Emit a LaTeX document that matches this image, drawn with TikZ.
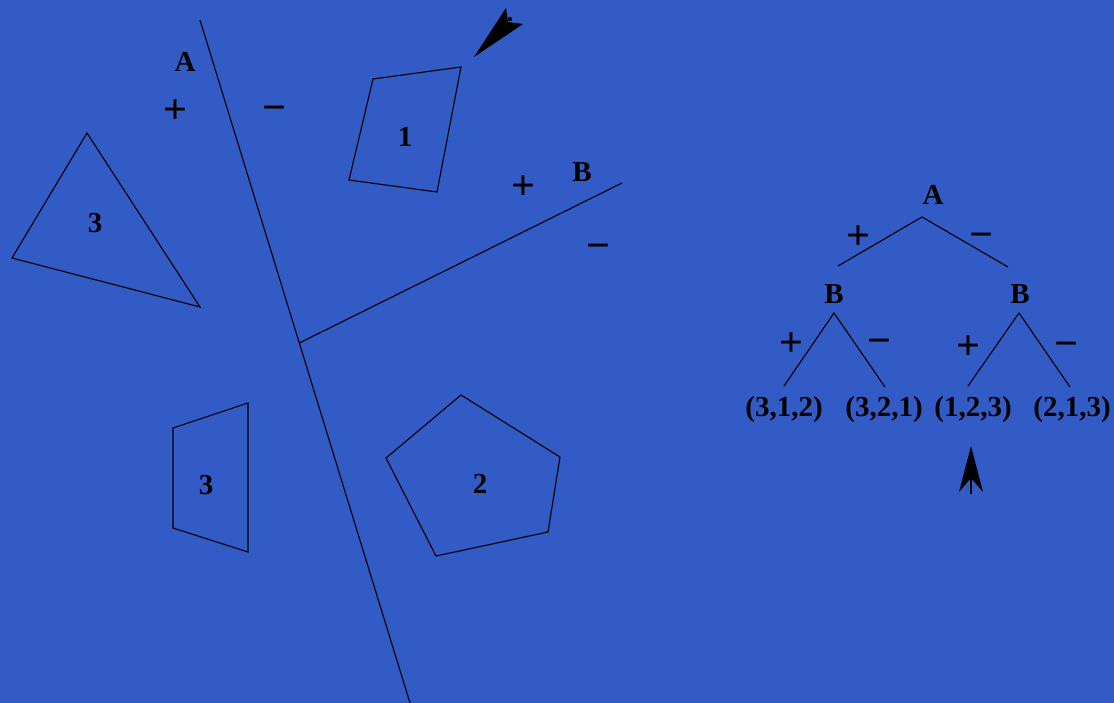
\documentclass[tikz,border=0pt]{standalone}
\usepackage{fontspec}
\setmainfont{Liberation Serif}
\begin{document}
\begin{tikzpicture}[x=1pt,y=-1pt,
  lbl/.style={font=\fontsize{29}{30}\selectfont\bfseries,inner sep=0pt},
  sgn/.style={font=\fontsize{42}{42}\selectfont\bfseries,inner sep=0pt},
  thin/.style={line width=1.1pt,black},
  pt/.style={inner sep=0pt,minimum size=0pt}]
\definecolor{bg}{RGB}{51,91,197}
\fill[bg] (0,0) rectangle (1114,703);
\useasboundingbox (0,0) rectangle (1114,703);
% cutting lines
\coordinate (a1) at (200,20);
\coordinate (a2) at (410,703);
\coordinate (b0) at (299.3,343);
\coordinate (b1) at (622,183);
\draw[thin] (a1) -- (a2);
\draw[thin] (b0) -- (b1);
% polygons
\draw[thin] (373,79) -- (461,67) -- (437,192) -- (349,180) -- cycle;
\draw[thin] (87,133) -- (200,307) -- (12,258) -- cycle;
\draw[thin] (173,428) -- (248,403) -- (248,552) -- (173,528) -- cycle;
\draw[thin] (461,395) -- (560,457) -- (548,532) -- (436,556) -- (386,458) -- cycle;
% polygon labels
\node[lbl] (p1) at (405,137) {1};
\node[lbl] (p3a) at (95,223) {3};
\node[lbl] (p3b) at (206,485) {3};
\node[lbl] (p2) at (480,484) {2};
% line labels
\node[lbl] (la) at (185,62) {A};
\node[sgn] (lap) at (175,112) {+};
\node[sgn] (lam) at (274,114) {−};
\node[lbl] (lb) at (582,172) {B};
\node[sgn] (lbp) at (523,188) {+};
\node[sgn] (lbm) at (598,252) {−};
% top arrow
\fill[black] (474,57) -- (506,8) -- (508,22) -- (523,24) -- cycle;
\fill[black] (510,19) circle (2.2);
% tree
\node[lbl] (tA) at (933,195) {A};
\node[lbl] (tBl) at (834,294) {B};
\node[lbl] (tBr) at (1020,294) {B};
\node[lbl] (l1) at (784,410) {(3,1,2)};
\node[lbl] (l2) at (884,410) {(3,2,1)};
\node[lbl] (l3) at (973,410) {(1,2,3)};
\node[lbl] (l4) at (1072,410) {(2,1,3)};
\coordinate (tAs) at (922,217);
\coordinate (tBls) at (834,313);
\coordinate (tBrs) at (1019,313);
\coordinate (e1) at (838,266);
\coordinate (e2) at (1008,267);
\coordinate (f1) at (784,386);
\coordinate (f2) at (885,387);
\coordinate (f3) at (968,386);
\coordinate (f4) at (1070,387);
\draw[thin] (e1) -- (tAs) -- (e2);
\draw[thin] (f1) -- (tBls) -- (f2);
\draw[thin] (f3) -- (tBrs) -- (f4);
\node[sgn] (s1) at (858,238) {+};
\node[sgn] (s2) at (981,241) {−};
\node[sgn] (s3) at (791,345) {+};
\node[sgn] (s4) at (879,347) {−};
\node[sgn] (s5) at (968,348) {+};
\node[sgn] (s6) at (1066,350) {−};
% bottom arrow
\fill[black] (971,446) -- (983,492) -- (971,478) -- (959,492) -- cycle;
\draw[line width=2pt] (971,478) -- (971,494);
\end{tikzpicture}
\end{document}
